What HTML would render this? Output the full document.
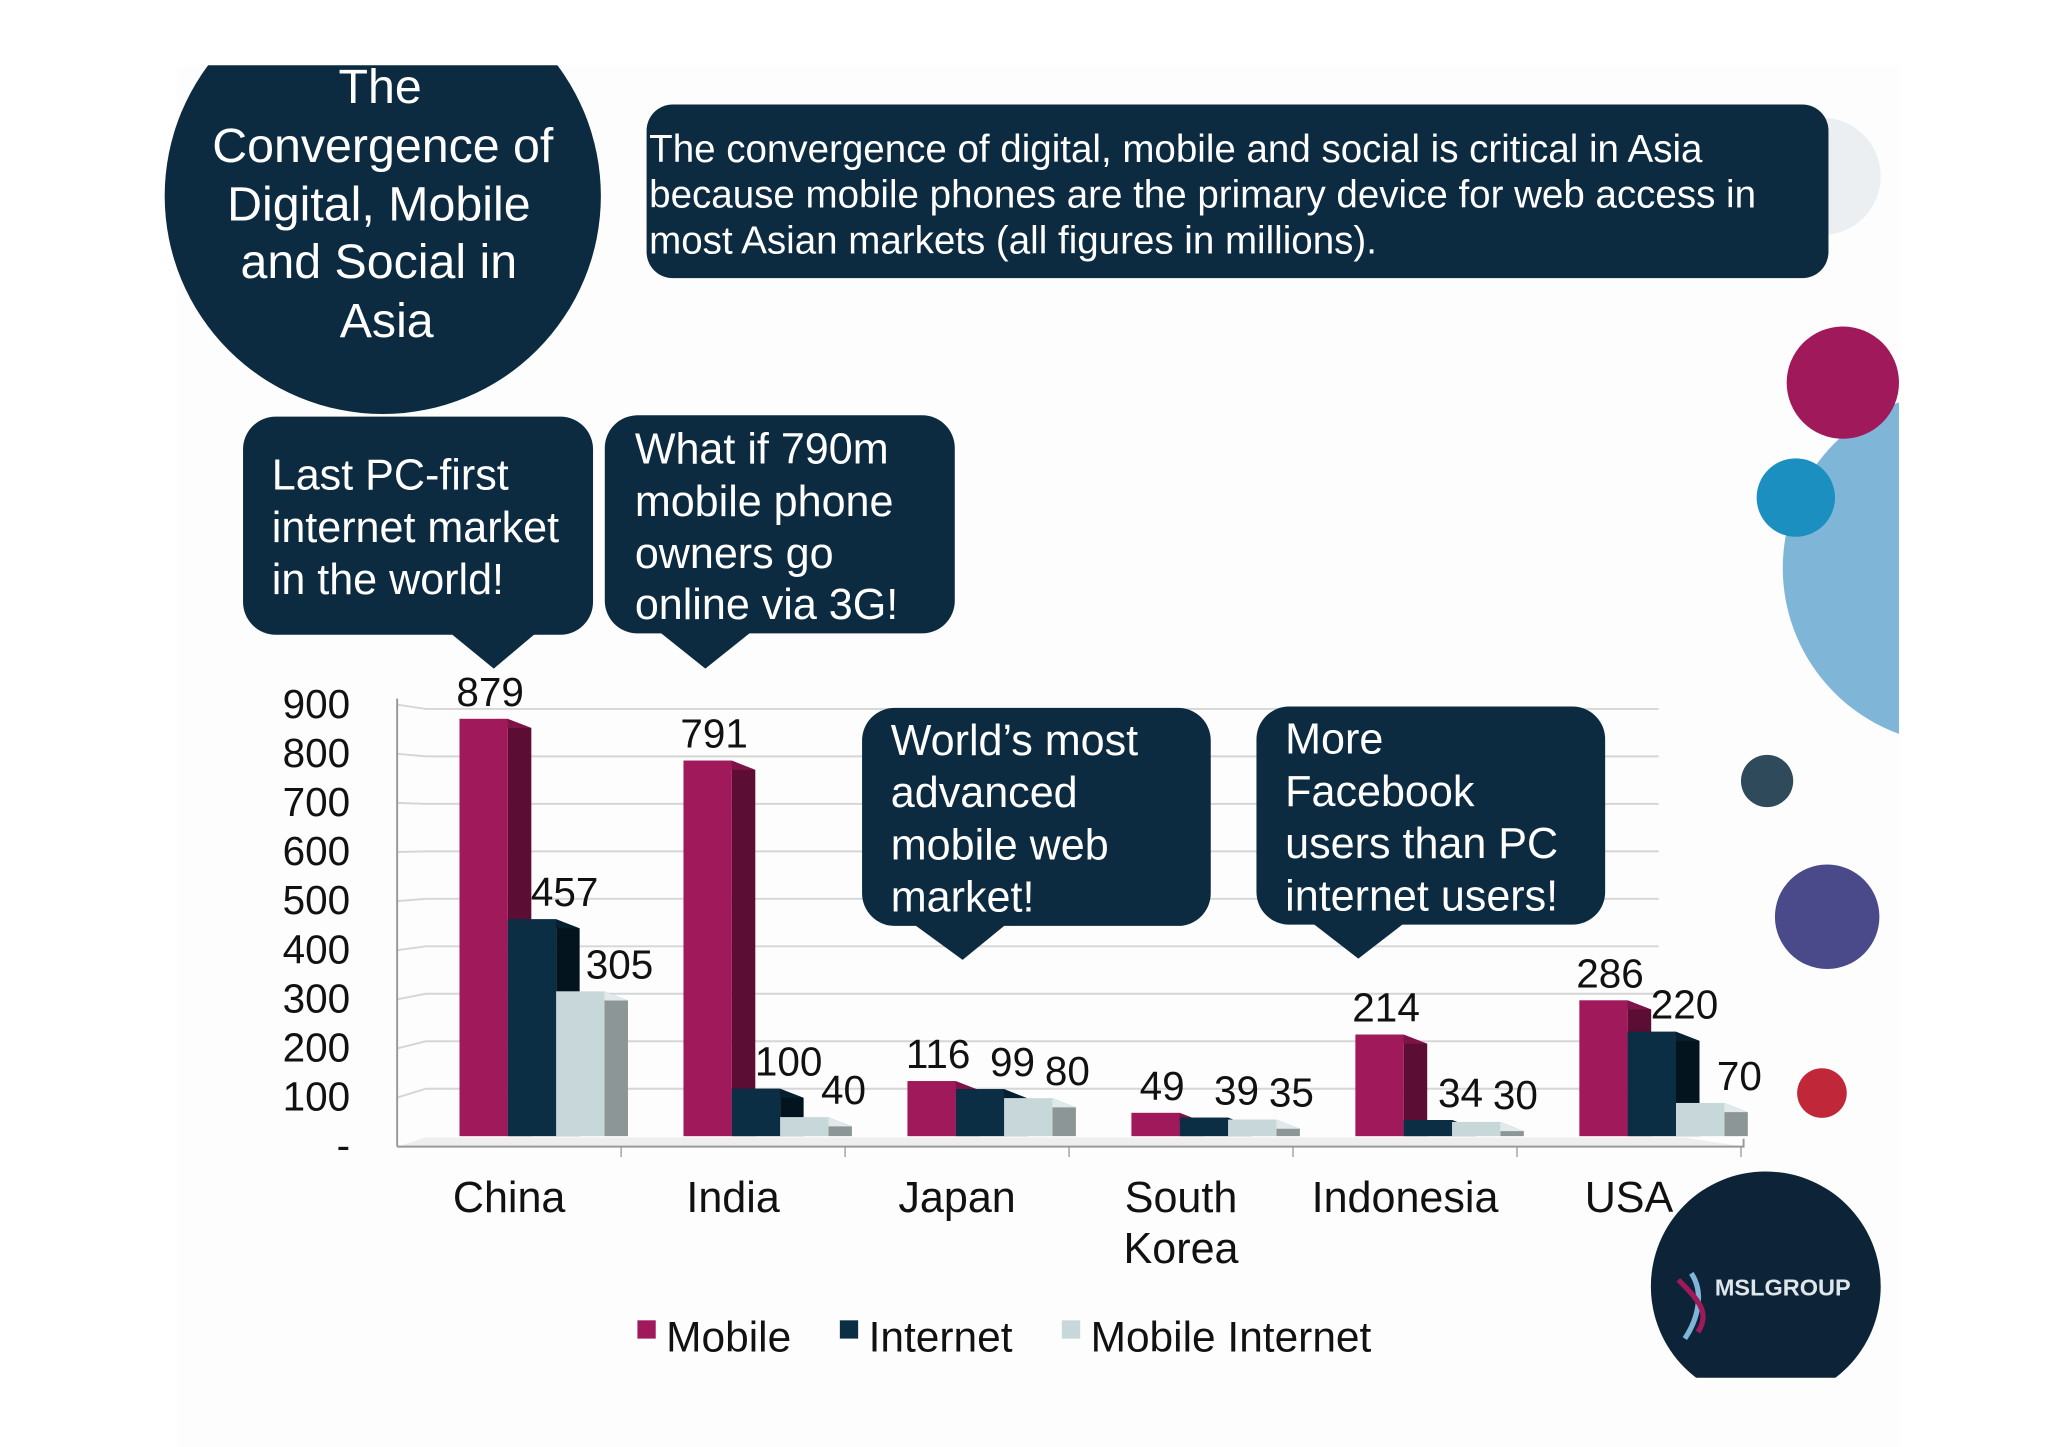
<!DOCTYPE html>
<html><head><meta charset="utf-8"><style>
html,body{margin:0;padding:0;background:#fff;}
svg{display:block;font-family:"Liberation Sans",sans-serif;}
</style></head><body>
<svg id="chart" width="2048" height="1447" viewBox="0 0 1568 1108" xmlns="http://www.w3.org/2000/svg">
<defs>
<clipPath id="topclip"><rect x="0" y="50" width="1568" height="1100"/></clipPath>
<clipPath id="rightclip"><rect x="0" y="0" width="1454" height="1108"/></clipPath>
<clipPath id="logoclip"><rect x="0" y="0" width="1568" height="1055"/></clipPath>
</defs>
<rect x="0" y="0" width="1568" height="1108" fill="#fff"/>
<rect x="135" y="50" width="1320" height="1058" fill="#fdfdfd"/>

<g>
<circle cx="1395" cy="135" r="45" fill="#eceff2"/>
<circle cx="1500" cy="435" r="135" fill="#7fb6d8" clip-path="url(#rightclip)"/>
<circle cx="1411" cy="293" r="43" fill="#a0195a"/>
<circle cx="1375" cy="381" r="30" fill="#1a8fc0"/>
<circle cx="1353" cy="598" r="20" fill="#2f4a5a"/>
<circle cx="1399" cy="702" r="40" fill="#4a4a8a"/>
<circle cx="1395" cy="837" r="19" fill="#c0283a"/>
</g>

<g clip-path="url(#topclip)">
<circle cx="293" cy="150" r="167" fill="#0d2b40"/>
<g fill="#fff" font-size="37" text-anchor="middle">
<text x="291" y="79">The</text>
<text x="293" y="124">Convergence of</text>
<text x="290" y="169">Digital, Mobile</text>
<text x="290" y="213">and Social in</text>
<text x="296" y="258">Asia</text>
</g>
</g>

<g>
<rect x="495" y="80" width="905" height="133" rx="20" fill="#0d2b40"/>
<g fill="#fff" font-size="29.5">
<text x="497" y="124">The convergence of digital, mobile and social is critical in Asia</text>
<text x="497" y="159">because mobile phones are the primary device for web access in</text>
<text x="497" y="194">most Asian markets (all figures in millions).</text>
</g>
</g>

<g id="grid"></g>
<g id="yaxis"></g>
<g id="bars"></g>
<g id="xaxis"></g>

<g>
<rect x="186" y="319" width="268" height="167" rx="25" fill="#0d2b40"/>
<polygon points="345,485 410,485 378,512" fill="#0d2b40"/>
<g fill="#fff" font-size="33"><text x="208" y="375">Last PC-first</text><text x="208" y="415">internet market</text><text x="208" y="455">in the world!</text></g>
</g>
<g>
<rect x="463" y="318" width="268" height="167" rx="25" fill="#0d2b40"/>
<polygon points="505,484 575,484 540,512" fill="#0d2b40"/>
<g fill="#fff" font-size="33"><text x="486" y="355">What if 790m</text><text x="486" y="395">mobile phone</text><text x="486" y="435">owners go</text><text x="486" y="474">online via 3G!</text></g>
</g>
<g>
<rect x="660" y="542" width="267" height="167" rx="25" fill="#0d2b40"/>
<polygon points="700,708 770,708 737,735" fill="#0d2b40"/>
<g fill="#fff" font-size="33"><text x="682" y="578">World’s most</text><text x="682" y="618">advanced</text><text x="682" y="658">mobile web</text><text x="682" y="698">market!</text></g>
</g>
<g>
<rect x="962" y="541" width="267" height="167" rx="25" fill="#0d2b40"/>
<polygon points="1005,707 1075,707 1040,734" fill="#0d2b40"/>
<g fill="#fff" font-size="33"><text x="984" y="577">More</text><text x="984" y="617">Facebook</text><text x="984" y="657">users than PC</text><text x="984" y="697">internet users!</text></g>
</g>

<g font-size="32.5" fill="#111">
<g><rect x="488" y="1011" width="14" height="14" fill="#a0195a"/><text x="510" y="1035">Mobile</text></g>
<g><rect x="643" y="1011" width="14" height="14" fill="#0b2e45"/><text x="665" y="1035">Internet</text></g>
<g><rect x="813" y="1011" width="14" height="14" fill="#c8d8da"/><text x="835" y="1035">Mobile Internet</text></g>
</g>

<g clip-path="url(#logoclip)">
<circle cx="1352" cy="985" r="88" fill="#0d2438"/>
<path d="M1295,975 C1305,990 1300,1010 1290,1025" stroke="#7fb6d8" stroke-width="4" fill="none"/>
<path d="M1285,980 C1300,995 1310,1005 1300,1020" stroke="#a0195a" stroke-width="4" fill="none"/>
<text x="1313" y="992" fill="#dfe6ea" font-size="18" font-weight="bold">MSLGROUP</text>
</g>
</svg>
<script>
const categories = ["China","India","Japan","South Korea","Indonesia","USA"];
const mobile = [879,791,116,49,214,286];
const internet = [457,100,99,39,34,220];
const mobileInternet = [305,40,80,35,30,70];
const yTicks = [0,100,200,300,400,500,600,700,800,900];
const yTickLabels = ["-","100","200","300","400","500","600","700","800","900"];

const NS="http://www.w3.org/2000/svg";
const y0=870, k=0.3635, x0=304, step=171.5, bw=37, dx=18, dy=-7;
const labelShift=[5,25,30];
function yS(v){return y0-v*k;}
function yL(v){return 878-v*0.376;}
function xC(i){return x0+step*(i+0.5);}
function mk(tag,attrs,parent){const e=document.createElementNS(NS,tag);for(const a in attrs)e.setAttribute(a,attrs[a]);parent.appendChild(e);return e;}

const grid=document.getElementById('grid'), yax=document.getElementById('yaxis'), bars=document.getElementById('bars'), xax=document.getElementById('xaxis');
yTicks.forEach((t,i)=>{
  const y=yS(t);
  if(t>0){
    const l=mk('polyline',{points:`${x0},${yL(t)} ${x0+22},${y} 1270,${y}`,fill:'none',stroke:'#d6d6d6','stroke-width':1.5},grid);
    
    
  }
  const tx=mk('text',{x:268,y:yL(t)+10,'text-anchor':'end','font-size':31,fill:'#111'},yax);
  tx.textContent=yTickLabels[i];
  
  
});
mk('line',{x1:x0,y1:535,x2:x0,y2:878,stroke:'#999','stroke-width':1.5},yax);
mk('polyline',{points:`${x0},878 1335,878 1335,872`,fill:'none',stroke:'#999','stroke-width':1.5},xax);
mk('polygon',{points:`${x0},878 ${x0+22},871 1290,871 1335,878`,fill:'#eeeeee'},grid);

const series=[[mobile,'#a0195a','#5c0d33','#7d1347'],[internet,'#0b2e45','#03141f','#06202f'],[mobileInternet,'#c8d8da','#8c9697','#e1eaeb']];
categories.forEach((c,i)=>{
  const gl=xC(i)-38;
  series.forEach((s,j)=>{
    const v=s[0][i], x=gl+j*bw, yt=yS(v);
    const g=mk('g',{},bars);
    
    
    mk('polygon',{points:`${x+bw},${yt} ${x+bw+dx},${yt-dy} ${x+bw+dx},${y0+dy+7} ${x+bw},${y0}`,fill:s[2]},g);
    mk('polygon',{points:`${x},${yt} ${x+bw},${yt} ${x+bw+dx},${yt-dy} ${x+dx},${yt-dy}`,fill:s[3]},g);
    mk('rect',{x:x,y:yt,width:bw,height:y0-yt,fill:s[1]},g);
  });
  series.forEach((s,j)=>{
    const v=s[0][i], x=gl+j*bw, yt=yS(v);
    const t=mk('text',{x:x+bw/2+labelShift[j],y:yt-10,'text-anchor':'middle','font-size':31,fill:'#111'},bars);
    t.textContent=v;
    
    
  });
  const parts=c.split(' ');
  parts.forEach((p,pi)=>{
    const t=mk('text',{x:xC(i),y:928+pi*39,'text-anchor':'middle','font-size':33,fill:'#111'},xax);
    t.textContent=p;
    
    
  });
  mk('line',{x1:x0+step*(i+1),y1:878,x2:x0+step*(i+1),y2:886,stroke:'#999'},xax);
});
</script>
</body></html>
